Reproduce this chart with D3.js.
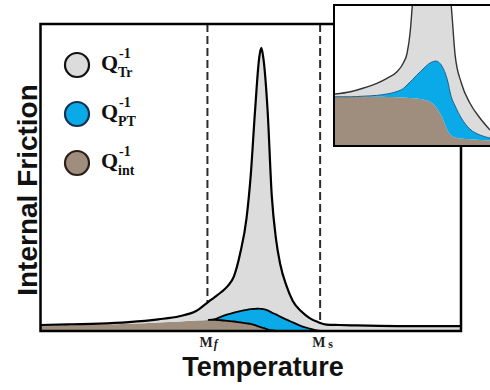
<!DOCTYPE html>
<html>
<head>
<meta charset="utf-8">
<script src="https://cdn.jsdelivr.net/npm/d3@7"></script>
<style>
  html, body { margin: 0; padding: 0; background: #fff; }
  svg { display: block; }
</style>
</head>
<body>
<svg width="490" height="390"></svg>
<script>
// main panel: temperature (arb. units, 0-100) and the three friction components
var temps = [0, 7, 14, 21, 28, 33, 37, 40, 41.5, 43, 44.5, 46, 47.5, 49, 50, 51, 52, 52.5,
             53, 54, 55, 56, 57, 58.5, 60, 62, 64, 66, 68, 71, 75, 85, 100];
var qInt  = [1.8, 1.95, 2.1, 2.4, 2.8, 3.1, 3.4, 3.6, 3.6, 3.5, 3.3, 3.1, 2.8, 2.5, 2.3, 1.9, 1.4, 1.2,
             1.0, 0.55, 0.2, 0, 0, 0, 0, 0, 0, 0, 0, 0, 0, 0, 0];
var qPT   = [0, 0, 0, 0, 0, 0, 0, 0, 0.3, 1.2, 2.1, 2.9, 3.7, 4.4, 4.8, 5.3, 5.9, 6.0,
             6.1, 6.15, 5.8, 5.4, 4.7, 3.7, 2.8, 1.6, 0.8, 0.15, 0, 0, 0, 0, 0];
var qTr   = [0.15, 0.25, 0.3, 0.5, 1.0, 1.7, 3.1, 6.0, 7.2, 8.0, 9.2, 11.8, 18.9, 29.9, 43.7, 64.1, 81.6, 85.0,
             81.8, 65.3, 38.0, 24.6, 17.1, 11.0, 7.0, 4.8, 3.4, 2.75, 2.1, 1.95, 1.8, 1.6, 1.6];

// inset: close-up of the base of the peak
var insetTemps = [0, 10, 18, 27, 33.5, 40, 44, 46.5, 48.5, 50, 55, 62, 65, 69, 72.5, 75, 77.5, 81.5, 87, 93.5, 100];
var insetInt   = [34.7, 34.7, 34.7, 34.7, 34.5, 34.4, 34.2, 34.0, 33.8, 33.7, 33.1, 30.6, 27.6, 20.1, 10.8, 6.8,
                  5.4, 4.7, 4.1, 3.6, 3.2];
var insetPT    = [0, 0, 0.4, 1.0, 2.2, 4.1, 6.4, 9.2, 11.5, 13.4, 19.6, 28.8, 32.8, 36.7, 36.0, 27.9,
                  22.7, 14.7, 7.4, 3.6, 1.8];
var insetTr    = [2.0, 3.6, 5.7, 8.7, 11.3, 14.2, 18.2, 22.8, 36.0, 54.9, 97, 140.6, 129.6, 103, 78, 65.3,
                  36.6, 25.2, 18.7, 12.2, 5.8];

// transformation temperatures
var markerTemps = [39.7, 66.5];
var markerSubs = ["f", "s"];

var seriesKeys = ["int", "PT", "Tr"];
var legendKeys = ["Tr", "PT", "int"];
var legendSubs = ["Tr", "PT", "int"];
var xTitle = "Temperature";
var yTitle = "Internal Friction";

var colors = { Tr: "#dcdcdc", PT: "#0aaae8", int: "#9f8e7d" };
var legendStroke = { Tr: "#111", PT: "#12324d", int: "#2a2019" };
var serif = "'Liberation Serif', 'Times New Roman', serif";
var sans = "'Liberation Sans', Arial, sans-serif";

var svg = d3.select("svg");

var frame = { left: 40.5, right: 461, top: 24, bottom: 331 };

var x = d3.scaleLinear().domain([0, 100]).range([frame.left, frame.right]);
var y = d3.scaleLinear().domain([0, 100]).range([frame.bottom, frame.top]);

function stackRows(ts, a, b, c) {
  var rows = ts.map(function(t, i) { return { t: t, int: a[i], PT: b[i], Tr: c[i] }; });
  return d3.stack().keys(seriesKeys)(rows);
}

var layers = stackRows(temps, qInt, qPT, qTr);

svg.append("clipPath").attr("id", "mainclip")
   .append("rect")
   .attr("x", frame.left).attr("y", frame.top)
   .attr("width", frame.right - frame.left).attr("height", frame.bottom - frame.top);

var plot = svg.append("g").attr("clip-path", "url(#mainclip)");

// dashed Mf / Ms lines (drawn first, the peak covers their lower part)
plot.selectAll("line.marker")
    .data(markerTemps)
    .enter()
    .append("line")
    .attr("class", "marker")
    .attr("x1", function(d) { return x(d); })
    .attr("x2", function(d) { return x(d); })
    .attr("y1", frame.top)
    .attr("y2", frame.bottom)
    .attr("stroke", "#2b2b2b")
    .attr("stroke-width", 2)
    .attr("stroke-dasharray", "8,4");

var area = d3.area()
             .x(function(d) { return x(d.data.t); })
             .y0(function(d) { return y(d[0]); })
             .y1(function(d) { return y(d[1]); })
             .curve(d3.curveMonotoneX);

var topLine = d3.line()
                .x(function(d) { return x(d.data.t); })
                .y(function(d) { return y(d[1]); })
                .curve(d3.curveMonotoneX);

plot.selectAll("path.layer")
    .data(layers)
    .enter()
    .append("path")
    .attr("class", "layer")
    .attr("d", area)
    .attr("fill", function(d) { return colors[d.key]; });

// outline of the Q_PT bump, only where it exists
var pt = layers[1].filter(function(d, i) {
  return qPT[i] > 0 || qPT[i - 1] > 0 || qPT[i + 1] > 0;
});
plot.append("path")
    .attr("d", area(pt))
    .attr("fill", "none")
    .attr("stroke", "#000")
    .attr("stroke-width", 1.8)
    .attr("stroke-linejoin", "round");

plot.append("path")
    .attr("d", topLine(layers[2]))
    .attr("fill", "none")
    .attr("stroke", "#000")
    .attr("stroke-width", 2.2);

svg.append("rect")
   .attr("x", frame.left).attr("y", frame.top)
   .attr("width", frame.right - frame.left).attr("height", frame.bottom - frame.top)
   .attr("fill", "none")
   .attr("stroke", "#000")
   .attr("stroke-width", 2.5);

// Mf, Ms labels
var marks = svg.selectAll("text.mlabel")
               .data(markerTemps)
               .enter()
               .append("text")
               .attr("class", "mlabel")
               .attr("x", function(d) { return x(d) - 8; })
               .attr("y", 347)
               .attr("font-family", serif)
               .attr("font-weight", "bold")
               .attr("font-size", 14)
               .attr("fill", "#222")
               .text("M");
marks.append("tspan")
     .attr("dx", function(d, i) { return i === 0 ? 1 : 3; })
     .attr("dy", 1)
     .attr("font-size", 12)
     .attr("font-style", function(d, i) { return i === 0 ? "italic" : "normal"; })
     .text(function(d, i) { return markerSubs[i]; });

// axis titles
svg.append("text")
   .attr("x", 263)
   .attr("y", 376)
   .attr("text-anchor", "middle")
   .attr("font-family", sans)
   .attr("font-weight", "bold")
   .attr("font-size", 27)
   .attr("fill", "#111")
   .text(xTitle);

svg.append("text")
   .attr("transform", "translate(37,190) rotate(-90)")
   .attr("text-anchor", "middle")
   .attr("font-family", sans)
   .attr("font-weight", "bold")
   .attr("font-size", 28)
   .attr("fill", "#111")
   .text(yTitle);

// legend
var leg = svg.selectAll("g.legend")
             .data(legendKeys)
             .enter()
             .append("g")
             .attr("class", "legend")
             .attr("transform", function(d, i) { return "translate(77," + (65 + i * 49) + ")"; });

leg.append("circle")
   .attr("r", 12)
   .attr("fill", function(d) { return colors[d]; })
   .attr("stroke", function(d) { return legendStroke[d]; })
   .attr("stroke-width", 2.2);

leg.append("text")
   .attr("x", 24).attr("y", 5)
   .attr("font-family", serif).attr("font-weight", "bold").attr("font-size", 22)
   .attr("fill", "#111")
   .text("Q");
leg.append("text")
   .attr("x", 42).attr("y", -7)
   .attr("font-family", serif).attr("font-weight", "bold").attr("font-size", 14)
   .attr("fill", "#111")
   .text("-1");
leg.append("text")
   .attr("x", 41).attr("y", 12)
   .attr("font-family", serif).attr("font-weight", "bold").attr("font-size", 14)
   .attr("fill", "#111")
   .text(function(d, i) { return legendSubs[i]; });

// inset
var inset = { left: 334, right: 494, top: 5, bottom: 146 };
var xi = d3.scaleLinear().domain([0, 100]).range([335, 490]);
var yi = d3.scaleLinear().domain([0, 100]).range([145, 6]);
var insetLayers = stackRows(insetTemps, insetInt, insetPT, insetTr);

svg.append("clipPath").attr("id", "insetclip")
   .append("rect")
   .attr("x", inset.left).attr("y", inset.top)
   .attr("width", inset.right - inset.left).attr("height", inset.bottom - inset.top);

svg.append("rect")
   .attr("x", inset.left).attr("y", inset.top)
   .attr("width", inset.right - inset.left).attr("height", inset.bottom - inset.top)
   .attr("fill", "#fff");

var ig = svg.append("g").attr("clip-path", "url(#insetclip)");

var iarea = d3.area()
              .x(function(d) { return xi(d.data.t); })
              .y0(function(d) { return yi(d[0]); })
              .y1(function(d) { return yi(d[1]); })
              .curve(d3.curveMonotoneX);
var iline = d3.line()
              .x(function(d) { return xi(d.data.t); })
              .y(function(d) { return yi(d[1]); })
              .curve(d3.curveMonotoneX);

ig.selectAll("path.ilayer")
  .data(insetLayers)
  .enter()
  .append("path")
  .attr("class", "ilayer")
  .attr("d", iarea)
  .attr("fill", function(d) { return colors[d.key]; });

ig.append("path")
  .attr("d", iline(insetLayers[1]))
  .attr("fill", "none")
  .attr("stroke", "#1c5d8a")
  .attr("stroke-width", 1);

ig.append("path")
  .attr("d", iline(insetLayers[2]))
  .attr("fill", "none")
  .attr("stroke", "#333")
  .attr("stroke-width", 1.4);

svg.append("rect")
   .attr("x", inset.left).attr("y", inset.top)
   .attr("width", inset.right - inset.left).attr("height", inset.bottom - inset.top)
   .attr("fill", "none")
   .attr("stroke", "#000")
   .attr("stroke-width", 2);
</script>
</body>
</html>
